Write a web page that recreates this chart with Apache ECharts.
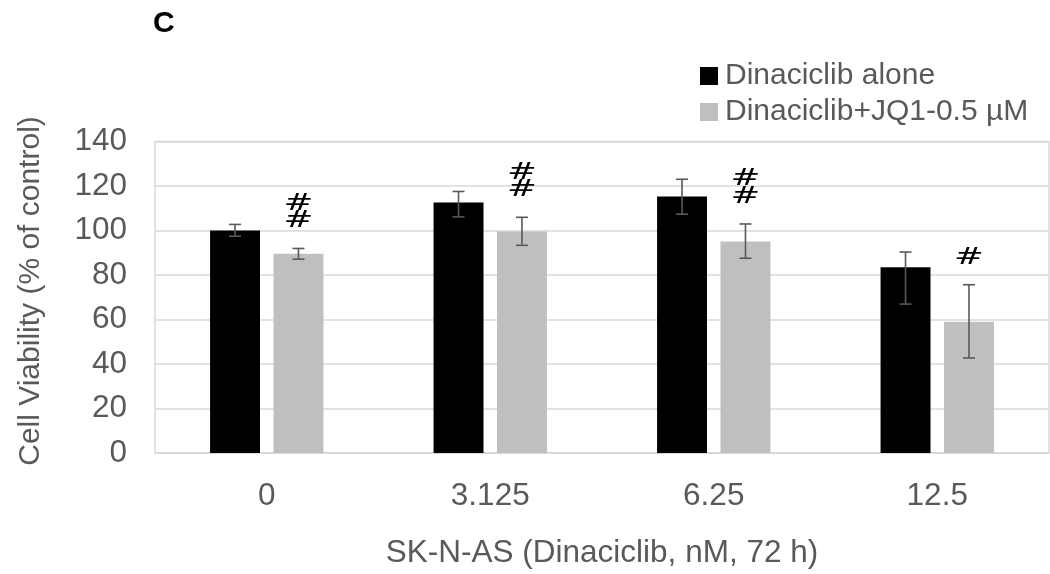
<!DOCTYPE html>
<html>
<head>
<meta charset="utf-8">
<title>SK-N-AS cell viability</title>
<script src="https://cdn.jsdelivr.net/npm/echarts@6/dist/echarts.min.js"></script>
<style>
  html, body { margin: 0; padding: 0; background: #ffffff; }
  #chart { width: 1050px; height: 574px; }
</style>
</head>
<body>
<div id="chart"></div>
<script>
// Dinaciclib concentrations (nM) on the category axis
const categories = ['0', '3.125', '6.25', '12.5'];
const seriesNames = ['Dinaciclib alone', 'Dinaciclib+JQ1-0.5 µM'];

// Mean viability, % of control
const aloneValues = [100, 112.5, 115.2, 83.5];
const comboValues = [89.5, 99.5, 95.0, 59.0];

// Error bar extents above / below each mean
const aloneErrUp = [2.7, 5.0, 7.8, 6.8];
const aloneErrDown = [2.6, 6.4, 7.9, 16.6];
const comboErrUp = [2.4, 6.4, 7.9, 16.6];
const comboErrDown = [2.4, 6.2, 7.5, 16.3];

// Significance marks over the combination bars
const comboMarks = ['##', '##', '##', '#'];

// Value axis range
const yMin = 0;
const yMax = 140;
const yStep = 20;

const TEXT = '#595959';
const GRID = '#d9d9d9';
const FONT = 'Liberation Sans, Arial, sans-serif';
const BAR_RATIO = 0.2235;   // bar width as a share of the category band
const GAP_RATIO = 0.27;     // gap between paired bars as a share of bar width

function errorData(values, up, down, marks) {
  return values.map((v, i) => [i, v, up[i], down[i], marks ? marks[i] : '']);
}

// Error bars (and optional marks) drawn at the centre of the matching bar
function errorRenderer(side) {
  return function (params, api) {
    const cat = api.value(0);
    const val = api.value(1);
    const up = api.value(2);
    const down = api.value(3);
    const mark = api.value(4);
    const band = api.size([1, 0])[0];
    const barW = band * BAR_RATIO;
    const gap = barW * GAP_RATIO;
    const offset = side * (barW + gap) / 2;
    const topPt = api.coord([cat, val + up]);
    const botPt = api.coord([cat, val - down]);
    const x = topPt[0] + offset;
    const cap = 6;
    const style = { stroke: TEXT, lineWidth: 1.6 };
    const children = [
      { type: 'line', shape: { x1: x, y1: topPt[1], x2: x, y2: botPt[1] }, style },
      { type: 'line', shape: { x1: x - cap, y1: topPt[1], x2: x + cap, y2: topPt[1] }, style },
      { type: 'line', shape: { x1: x - cap, y1: botPt[1], x2: x + cap, y2: botPt[1] }, style }
    ];
    if (mark && mark !== '') {
      // one glyph per line, stacked upward from just above the cap
      const glyphs = String(mark).split('');
      glyphs.forEach((g, k) => {
        const midY = topPt[1] - 27 - (glyphs.length - 1 - k) * 17.5;
        children.push({
          type: 'text',
          x: x,
          y: midY,
          scaleX: 1.05,
          scaleY: 0.66,
          style: {
            text: g,
            x: 0,
            y: 0,
            align: 'center',
            verticalAlign: 'middle',
            fill: '#000000',
            font: '34px "DejaVu Sans", sans-serif'
          }
        });
      });
    }
    return { type: 'group', children };
  };
}

const chart = echarts.init(document.getElementById('chart'), null, { renderer: 'canvas' });

chart.setOption({
  animation: false,
  backgroundColor: '#ffffff',
  textStyle: { fontFamily: FONT },
  grid: {
    left: 155, right: 1, top: 141.4, bottom: 117.3,
    show: true, borderColor: GRID, borderWidth: 1.5, backgroundColor: 'transparent'
  },
  legend: {
    data: seriesNames,
    orient: 'vertical',
    left: 695,
    top: 56,
    itemWidth: 18,
    itemHeight: 18,
    itemGap: 6,
    icon: 'rect',
    textStyle: { color: TEXT, fontSize: 30, fontFamily: FONT, padding: [0, 0, 0, 2] }
  },
  graphic: [
    {
      type: 'text', left: 153, top: 9,
      style: { text: 'C', font: 'bold 30px "Liberation Sans", Arial, sans-serif', fill: '#000000' }
    },
    {
      type: 'text', x: 31, y: 291, rotation: Math.PI / 2,
      style: {
        text: 'Cell Viability (% of control)', align: 'center', verticalAlign: 'middle',
        font: '30px "Liberation Sans", Arial, sans-serif', fill: TEXT
      }
    }
  ],
  xAxis: {
    type: 'category',
    data: categories,
    name: 'SK-N-AS (Dinaciclib, nM, 72 h)',
    nameLocation: 'middle',
    nameGap: 84,
    nameTextStyle: { color: TEXT, fontSize: 31.5, fontFamily: FONT },
    axisLine: { lineStyle: { color: GRID, width: 1.5 } },
    axisTick: { show: false },
    axisLabel: { color: TEXT, fontSize: 31.5, fontFamily: FONT, margin: 27 }
  },
  yAxis: {
    type: 'value',
    min: yMin, max: yMax, interval: yStep,
    axisLine: { show: false },
    axisTick: { show: false },
    axisLabel: { color: TEXT, fontSize: 31.5, fontFamily: FONT, margin: 28 },
    splitLine: { lineStyle: { color: GRID, width: 1.5 } }
  },
  series: [
    {
      name: seriesNames[0], type: 'bar', data: aloneValues,
      barWidth: (BAR_RATIO * 100) + '%', barGap: (GAP_RATIO * 100) + '%',
      itemStyle: { color: '#000000' }
    },
    {
      name: seriesNames[1], type: 'bar', data: comboValues,
      barWidth: (BAR_RATIO * 100) + '%', barGap: (GAP_RATIO * 100) + '%',
      itemStyle: { color: '#bfbfbf' }
    },
    {
      type: 'custom', name: 'aloneErr', z: 5,
      renderItem: errorRenderer(-1),
      encode: { x: 0, y: 1 },
      data: errorData(aloneValues, aloneErrUp, aloneErrDown, null)
    },
    {
      type: 'custom', name: 'comboErr', z: 5,
      renderItem: errorRenderer(1),
      encode: { x: 0, y: 1 },
      data: errorData(comboValues, comboErrUp, comboErrDown, comboMarks)
    }
  ]
});
</script>
</body>
</html>
